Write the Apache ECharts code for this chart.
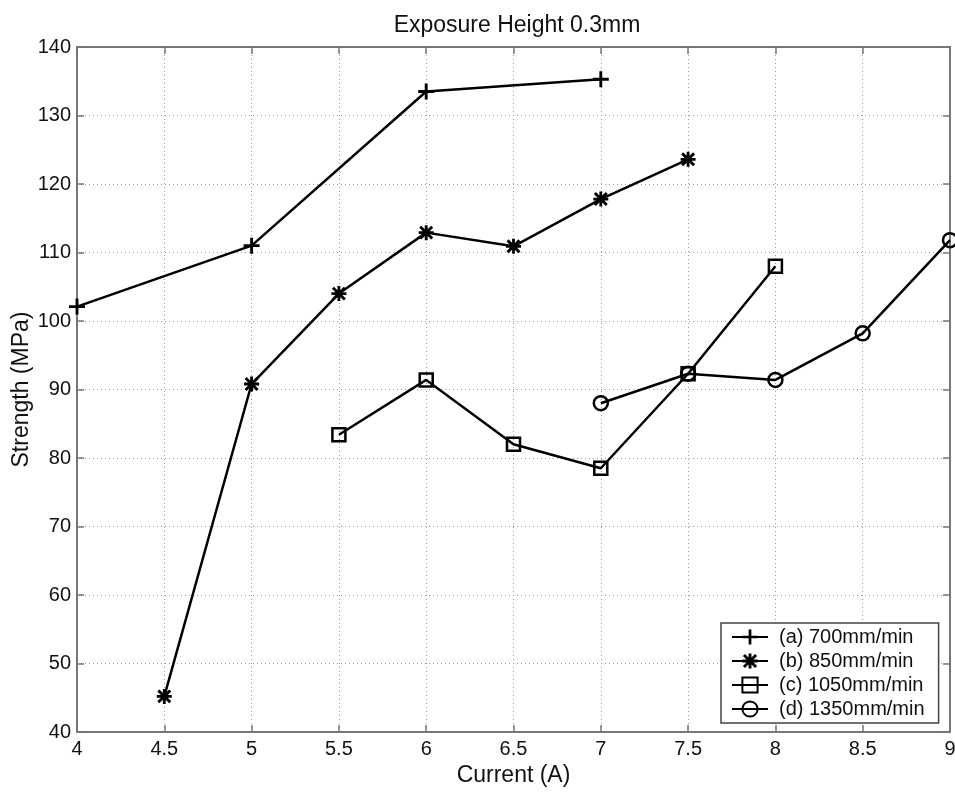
<!DOCTYPE html>
<html>
<head>
<meta charset="utf-8">
<title>Exposure Height 0.3mm</title>
<script src="https://cdn.jsdelivr.net/npm/echarts@6/dist/echarts.min.js"></script>
<style>
  html, body { margin: 0; padding: 0; background: #fff; }
  #chart { width: 955px; height: 793px; }
</style>
</head>
<body>
<div id="chart"></div>
<script>
// data
var seriesNames = ['(a) 700mm/min', '(b) 850mm/min', '(c) 1050mm/min', '(d) 1350mm/min'];
var currentA = [4, 5, 6, 7];
var strengthA = [102.1, 111.0, 133.5, 135.3];
var currentB = [4.5, 5, 5.5, 6, 6.5, 7, 7.5];
var strengthB = [45.2, 90.8, 104.0, 112.9, 110.9, 117.8, 123.6];
var currentC = [5.5, 6, 6.5, 7, 7.5, 8];
var strengthC = [83.4, 91.4, 82.0, 78.5, 92.3, 108.0];
var currentD = [7, 7.5, 8, 8.5, 9];
var strengthD = [88.0, 92.3, 91.4, 98.2, 111.8];

var FONT = 'Liberation Sans, Arial, sans-serif';

// marker shapes (matlab style)
var plusSymbol = 'path://M4.1,0H5.9V4.1H10V5.9H5.9V10H4.1V5.9H0V4.1H4.1Z';
var starSymbol = 'path://M0,4.05H10V5.95H0Z M4.05,0H5.95V10H4.05Z ' +
  'M1.7,0.35L9.65,8.3L8.3,9.65L0.35,1.7Z M8.3,0.35L9.65,1.7L1.7,9.65L0.35,8.3Z';

function pairs(xs, ys) {
  return xs.map(function (x, i) { return [x, ys[i]]; });
}

function makeSeries(name, xs, ys, symbol, size, hollow) {
  return {
    name: name,
    type: 'line',
    data: pairs(xs, ys),
    symbol: symbol,
    symbolSize: size,
    showAllSymbol: true,
    lineStyle: { color: '#000', width: 2.5 },
    itemStyle: hollow
      ? { color: 'rgba(255,255,255,0)', borderColor: '#000', borderWidth: 2.5 }
      : { color: '#000', borderWidth: 0 },
    emphasis: { disabled: true },
    animation: false
  };
}

var chart = echarts.init(document.getElementById('chart'));

var tickLabel = { color: '#111', fontSize: 20, fontFamily: FONT };
var boxLine = { show: true, lineStyle: { color: '#777', width: 2 } };
var inTick = { show: true, inside: true, length: 7, lineStyle: { color: '#777', width: 1.5 } };
var dotted = { show: true, lineStyle: { color: '#999', type: [1, 3], width: 1 } };

chart.setOption({
  backgroundColor: '#fff',
  title: {
    text: 'Exposure Height 0.3mm',
    left: 512,
    top: 9,
    textAlign: 'center',
    textStyle: { fontSize: 23, fontWeight: 'normal', color: '#111', fontFamily: FONT }
  },
  grid: { left: 77, top: 47, right: 5, bottom: 61, containLabel: false, outerBoundsMode: 'none' },
  legend: {
    orient: 'vertical',
    left: 721,
    top: 623,
    padding: [4, 14, 4, 10],
    itemWidth: 36,
    itemHeight: 19,
    itemGap: 4,
    backgroundColor: '#fff',
    borderColor: '#444',
    borderWidth: 1.5,
    textStyle: { color: '#111', fontSize: 20, fontFamily: FONT, padding: [0, 0, 0, 6] },
    data: seriesNames
  },
  xAxis: [{
    type: 'value',
    min: 4, max: 9, interval: 0.5,
    name: 'Current (A)',
    nameLocation: 'middle',
    nameGap: 32,
    nameMoveOverlap: false,
    nameTextStyle: { color: '#111', fontSize: 23, fontFamily: FONT },
    axisLine: boxLine,
    axisTick: inTick,
    axisLabel: Object.assign({ margin: 7 }, tickLabel),
    splitLine: dotted
  }, {
    type: 'value',
    position: 'top',
    min: 4, max: 9, interval: 0.5,
    axisLine: boxLine,
    axisTick: inTick,
    axisLabel: { show: false },
    splitLine: { show: false }
  }],
  yAxis: [{
    type: 'value',
    min: 40, max: 140, interval: 10,
    name: 'Strength (MPa)',
    nameLocation: 'middle',
    nameGap: 44,
    nameMoveOverlap: false,
    nameTextStyle: { color: '#111', fontSize: 23, fontFamily: FONT },
    axisLine: boxLine,
    axisTick: inTick,
    axisLabel: Object.assign({ margin: 6 }, tickLabel),
    splitLine: dotted
  }, {
    type: 'value',
    position: 'right',
    min: 40, max: 140, interval: 10,
    axisLine: boxLine,
    axisTick: inTick,
    axisLabel: { show: false },
    splitLine: { show: false }
  }],
  series: [
    makeSeries(seriesNames[0], currentA, strengthA, plusSymbol, 16, false),
    makeSeries(seriesNames[1], currentB, strengthB, starSymbol, 15, false),
    makeSeries(seriesNames[3], currentD, strengthD, 'circle', 14, true),
    makeSeries(seriesNames[2], currentC, strengthC, 'rect', 13, true)
  ]
});
</script>
</body>
</html>
